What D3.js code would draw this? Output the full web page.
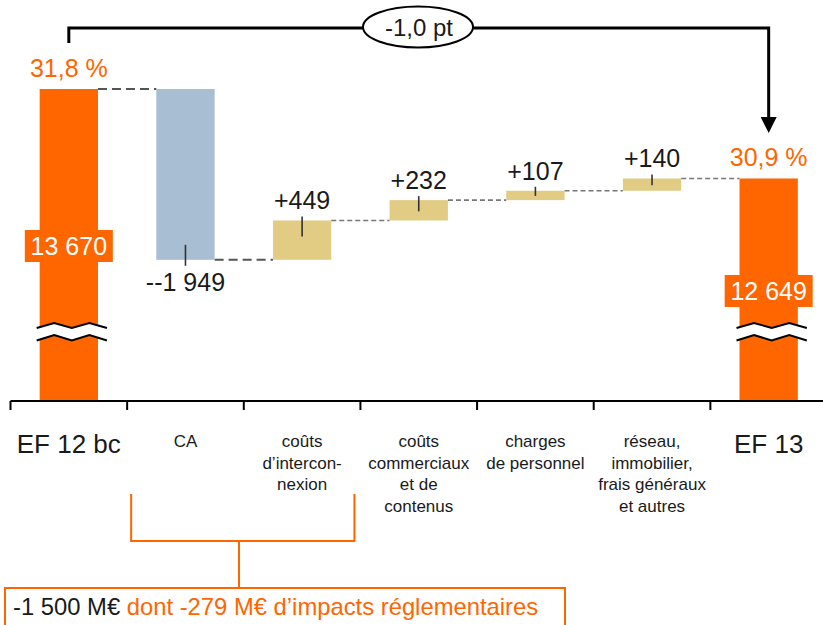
<!DOCTYPE html>
<html><head><meta charset="utf-8">
<script src="https://cdn.jsdelivr.net/npm/d3@7"></script>
<style>
body{margin:0;background:#fff;}
svg{display:block;font-family:"Liberation Sans",Arial,sans-serif;}
</style></head>
<body><svg id="c" width="823" height="625"></svg>
<script>
// ---- data ----
const categories = ["EF 12 bc","CA","coûts d’intercon-nexion","coûts commerciaux et de contenus","charges de personnel","réseau, immobilier, frais généraux et autres","EF 13"];
const categoryLines = [["EF 12 bc"],["CA"],["coûts","d’intercon-","nexion"],["coûts","commerciaux","et de","contenus"],["charges","de personnel"],["réseau,","immobilier,","frais généraux","et autres"],["EF 13"]];
const values = [13670, -1949, 449, 232, 107, 140, 12649];
const kinds = ["total","delta","delta","delta","delta","delta","total"];
const valueLabels = ["13 670","--1 949","+449","+232","+107","+140","12 649"];
const marginLabels = ["31,8 %","30,9 %"];
const marginChange = "-1,0 pt";
const noteBlack = "-1 500 M€ ";
const noteOrange = "dont -279 M€ d’impacts réglementaires";

// ---- layout ----
const ORANGE = "#FF6600", BLUE = "#A8BED2", TAN = "#E2CC84";
const svg = d3.select("#c");
const axisY = 401;
const x = d3.scaleBand().domain(categories).range([10.5, 827]).paddingInner(0.5).paddingOuter(0.25);
const y = d3.scaleLinear().domain([10110, 13670]).range([axisY, 89]);
const step = x.step(), bw = x.bandwidth();

// compute waterfall
let run = 0;
const bars = categories.map((c, i) => {
  let y0, y1;
  if (kinds[i] === "total") { y0 = 10110; y1 = values[i]; run = values[i]; }
  else { y0 = run; y1 = run + values[i]; run = y1; }
  return {c, i, v: values[i], y0, y1, kind: kinds[i]};
});

// connectors
for (let i = 0; i < bars.length - 1; i++) {
  const lvl = bars[i].y1;
  const heavy = i < 2;
  svg.append("line")
    .attr("x1", x(categories[i]) + bw).attr("x2", x(categories[i+1]))
    .attr("y1", y(lvl)).attr("y2", y(lvl))
    .attr("stroke", heavy ? "#555" : "#777")
    .attr("stroke-width", heavy ? 2 : 1.6)
    .attr("stroke-dasharray", heavy ? "9,5" : "5,3");
}

// bars
svg.selectAll("rect.bar").data(bars).enter().append("rect")
  .attr("class","bar")
  .attr("x", d => x(d.c)).attr("width", bw)
  .attr("y", d => y(Math.max(d.y0, d.y1)))
  .attr("height", d => Math.abs(y(d.y0) - y(d.y1)))
  .attr("fill", d => d.kind === "total" ? ORANGE : (d.v < 0 ? BLUE : TAN));

// delta leader ticks + labels
bars.filter(d => d.kind === "delta").forEach(d => {
  const cx = x(d.c) + bw/2;
  const h = Math.abs(y(d.y0) - y(d.y1));
  const inside = Math.min(16, h*0.55);
  if (d.v >= 0) {
    const top = y(d.y1);
    svg.append("line").attr("x1",cx).attr("x2",cx).attr("y1",top-4).attr("y2",top+inside)
      .attr("stroke","#333").attr("stroke-width",1.6);
    svg.append("text").attr("x",cx).attr("y",top-11).attr("text-anchor","middle")
      .attr("font-size",25).attr("fill","#1a1a1a").text(valueLabels[d.i]);
  } else {
    const bot = y(d.y1);
    svg.append("line").attr("x1",cx).attr("x2",cx).attr("y1",bot-15).attr("y2",bot+6)
      .attr("stroke","#333").attr("stroke-width",1.6);
    svg.append("text").attr("x",cx).attr("y",bot+31).attr("text-anchor","middle")
      .attr("font-size",25).attr("fill","#1a1a1a").text(valueLabels[d.i]);
  }
});

// totals: margin labels, value boxes, break symbols
const totalLabelY = [246, 291];
bars.filter(d => d.kind === "total").forEach((d, k) => {
  const cx = x(d.c) + bw/2;
  svg.append("text").attr("x",cx).attr("y",y(d.y1)-12).attr("text-anchor","middle")
    .attr("font-size",25).attr("fill",ORANGE).text(marginLabels[k]);
  const t = svg.append("text").attr("x",cx).attr("y",totalLabelY[k]+9).attr("text-anchor","middle")
    .attr("font-size",25).attr("fill","#fff").text(valueLabels[d.i]);
  svg.insert("rect", () => t.node())
    .attr("x", cx - 44).attr("y", totalLabelY[k]-16).attr("width", 88).attr("height", 32)
    .attr("fill", ORANGE);
  // break symbol
  const x0 = x(d.c) - 3, x1 = x(d.c) + bw + 9;
  const xs = d3.range(5).map(j => x0 + (x1 - x0) * j / 4);
  const topY = [328,323,328,323,328], botY = [340.5,335,340.5,335,340.5];
  const topPts = xs.map((xx,j)=>[xx, topY[j]]), botPts = xs.map((xx,j)=>[xx, botY[j]]);
  svg.append("path").attr("d", d3.line()(topPts.concat(botPts.slice().reverse())) + "Z").attr("fill","#fff");
  svg.append("path").attr("d", d3.line()(topPts)).attr("fill","none").attr("stroke","#000").attr("stroke-width",2);
  svg.append("path").attr("d", d3.line()(botPts)).attr("fill","none").attr("stroke","#000").attr("stroke-width",2);
});

// axis
svg.append("line").attr("x1", 10.5).attr("x2", 823).attr("y1", axisY).attr("y2", axisY)
  .attr("stroke","#000").attr("stroke-width",2);
categories.forEach(c => {
  const tx = x(c) - (step - bw)/2;
  svg.append("line").attr("x1",tx).attr("x2",tx).attr("y1",axisY).attr("y2",axisY+9)
    .attr("stroke","#000").attr("stroke-width",2);
});

// category labels
categories.forEach((c, i) => {
  const cx = x(c) + bw/2;
  const big = kinds[i] === "total";
  const t = svg.append("text").attr("text-anchor","middle").attr("fill","#1a1a1a")
    .attr("font-size", big ? 26 : 17);
  categoryLines[i].forEach((ln, j) => {
    t.append("tspan").attr("x", cx).attr("y", (big ? 453 : 447) + j*21.7).text(ln);
  });
});

// top margin-change arrow
const xa = x(categories[0]) + bw/2, xb = x(categories[6]) + bw/2;
svg.append("path").attr("d", `M${xa},43V28H${xb}V118`).attr("fill","none")
  .attr("stroke","#000").attr("stroke-width",3);
svg.append("path").attr("d", `M${xb-8},117L${xb+8},117L${xb},133Z`).attr("fill","#000");
svg.append("ellipse").attr("cx",418).attr("cy",27).attr("rx",55).attr("ry",20.5)
  .attr("fill","#fff").attr("stroke","#000").attr("stroke-width",2);
svg.append("text").attr("x",419).attr("y",36).attr("text-anchor","middle")
  .attr("font-size",24).attr("fill","#1a1a1a").text(marginChange);

// bracket + note
const bl = x(categories[1]) - (step-bw)/2 + 4, br = x(categories[3]) - (step-bw)/2 - 6;
const bmid = 239;
svg.append("path").attr("d", `M${bl},494V541H${br}V494M${bmid},541V588`)
  .attr("fill","none").attr("stroke",ORANGE).attr("stroke-width",2);
svg.append("rect").attr("x",5).attr("y",588).attr("width",560).attr("height",50)
  .attr("fill","none").attr("stroke",ORANGE).attr("stroke-width",2);
const note = svg.append("text").attr("x",13).attr("y",615).attr("font-size",23.8);
note.append("tspan").attr("fill","#1a1a1a").text(noteBlack);
note.append("tspan").attr("fill",ORANGE).text(noteOrange);
</script></body></html>
